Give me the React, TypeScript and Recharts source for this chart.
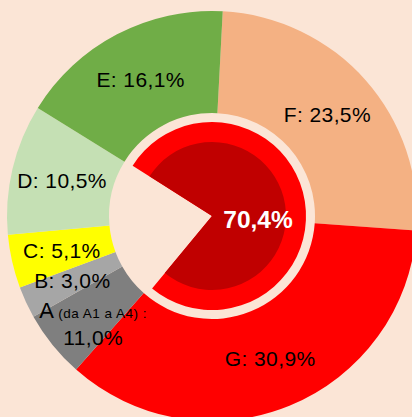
import React from 'react';
import { PieChart, Pie, Cell } from 'recharts';

// Outer ring: categories (clockwise from the top), printed percentages, and the
// angular share each slice occupies in the picture.
const segmentNames = ['F', 'G', 'A', 'B', 'C', 'D', 'E'];
const segmentPercents = ['23,5%', '30,9%', '11,0%', '3,0%', '5,1%', '10,5%', '16,1%'];
const segmentShares = [25.3, 35.4, 5.3, 2.5, 4.2, 10.3, 17.0];
const segmentSubtitles = ['', '', '(da  A1  a  A4)  :', '', '', '', ''];

// Inner pie: printed value and drawn share (filled part vs missing wedge).
const innerLabel = '70,4%';
const innerShares = [77.0, 23.0];

const segmentColors = ['#f4b183', '#ff0000', '#7f7f7f', '#a6a6a6', '#ffff00', '#c5e0b4', '#70ad47'];
const BG = '#fbe5d6';
const RADIAN = Math.PI / 180;

const outerData = segmentNames.map((name, i) => ({
  name,
  value: segmentShares[i],
  pct: segmentPercents[i],
  sub: segmentSubtitles[i],
}));
const innerData = innerShares.map((v, i) => ({ name: i === 0 ? 'filled' : 'gap', value: v }));

const FONT = '"Liberation Sans", Arial, sans-serif';

function OuterLabel(props: any) {
  const { cx, cy, midAngle, innerRadius, outerRadius, index } = props;
  const r = (innerRadius + outerRadius) / 2;
  const x = cx + r * Math.cos(-midAngle * RADIAN);
  const y = cy + r * Math.sin(-midAngle * RADIAN);
  const d = outerData[index];
  if (d.sub) {
    return (
      <g>
        <text x={x + 1} y={y + 5} textAnchor="middle" fill="#000" fontFamily={FONT} fontSize={22}>
          <tspan>{d.name}</tspan>
          <tspan fontSize={13.5} letterSpacing={0.5}>{' ' + d.sub}</tspan>
        </text>
        <text x={x + 1} y={y + 32} textAnchor="middle" fill="#000" fontFamily={FONT} fontSize={21} letterSpacing={0.4}>
          {d.pct}
        </text>
      </g>
    );
  }
  return (
    <text x={x} y={y + 7.5} textAnchor="middle" fill="#000" fontFamily={FONT} fontSize={21} letterSpacing={0.4}>
      {`${d.name}: ${d.pct}`}
    </text>
  );
}

function InnerLabel(props: any) {
  const { cx, cy, index } = props;
  if (index !== 0) return null;
  return (
    <text x={cx + 46} y={cy + 12} textAnchor="middle" fill="#fff" fontFamily={FONT} fontWeight="bold" fontSize={24.5}>
      {innerLabel}
    </text>
  );
}

export default function App() {
  const cx = 212;
  const cy = 216;
  return (
    <div style={{ position: 'absolute', left: 0, top: 0, width: 412, height: 417, background: BG, overflow: 'hidden' }}>
      <PieChart width={412} height={417} margin={{ top: 0, right: 0, bottom: 0, left: 0 }}>
        <Pie
          data={outerData}
          dataKey="value"
          cx={cx}
          cy={cy}
          innerRadius={103}
          outerRadius={205}
          startAngle={87}
          endAngle={-273}
          stroke="none"
          isAnimationActive={false}
          labelLine={false}
          label={OuterLabel}
        >
          {outerData.map((d, i) => (
            <Cell key={d.name} fill={segmentColors[i]} />
          ))}
        </Pie>
        <Pie
          data={innerData}
          dataKey="value"
          cx={cx}
          cy={cy}
          innerRadius={0}
          outerRadius={94}
          startAngle={147.6}
          endAngle={-212.4}
          stroke="none"
          isAnimationActive={false}
          labelLine={false}
        >
          <Cell fill="#ff0000" />
          <Cell fill="transparent" />
        </Pie>
        <Pie
          data={innerData}
          dataKey="value"
          cx={cx}
          cy={cy}
          innerRadius={0}
          outerRadius={74}
          startAngle={147.6}
          endAngle={-212.4}
          stroke="none"
          isAnimationActive={false}
          labelLine={false}
          label={InnerLabel}
        >
          <Cell fill="#c00000" />
          <Cell fill="transparent" />
        </Pie>
      </PieChart>
    </div>
  );
}
